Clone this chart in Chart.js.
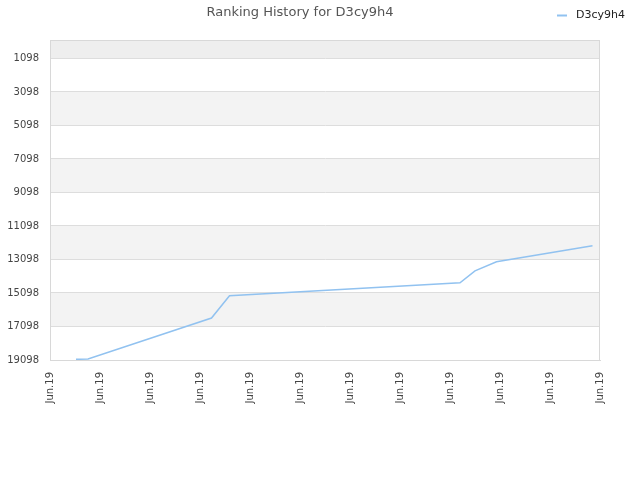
<!DOCTYPE html>
<html>
<head>
<meta charset="utf-8">
<script src="https://cdn.jsdelivr.net/npm/chart.js@4"></script>
<style>
html,body{margin:0;padding:0;background:#fff;}
#wrap{width:640px;height:480px;}
</style>
</head>
<body>
<div id="wrap"><canvas id="c" width="640" height="480"></canvas></div>
<script>
const seriesName = 'D3cy9h4';
const titleText = 'Ranking History for D3cy9h4';
const tickLabels = ['Jun.19','Jun.19','Jun.19','Jun.19','Jun.19','Jun.19','Jun.19','Jun.19','Jun.19','Jun.19','Jun.19','Jun.19'];
const xPositions = [0.52, 0.76, 3.23, 3.59, 8.2, 8.5, 8.93, 10.85];
const ranks = [19060, 19040, 16595, 15265, 14491, 13775, 13239, 12285];
const yTicks = [1098, 3098, 5098, 7098, 9098, 11098, 13098, 15098, 17098, 19098];

const lineColor = 'rgb(145,194,240)';

const bandPlugin = {
  id: 'bands',
  beforeDraw(chart) {
    const ctx = chart.ctx, a = chart.chartArea, y = chart.scales.y;
    ctx.save();
    const yTop = y.getPixelForValue(y.min);
    const y0 = y.getPixelForValue(yTicks[0]);
    ctx.fillStyle = '#eeeeee';
    ctx.fillRect(a.left, Math.min(yTop, y0), a.right - a.left, Math.abs(y0 - yTop));
    for (let i = 0; i < yTicks.length - 1; i++) {
      if (i % 2 === 1) {
        const p1 = y.getPixelForValue(yTicks[i]);
        const p2 = y.getPixelForValue(yTicks[i + 1]);
        ctx.fillStyle = '#f3f3f3';
        ctx.fillRect(a.left, p1, a.right - a.left, p2 - p1);
      }
    }
    ctx.restore();
  },
  afterDraw(chart) {
    const ctx = chart.ctx, a = chart.chartArea;
    ctx.save();
    ctx.strokeStyle = '#d8d8d8';
    ctx.lineWidth = 1;
    ctx.strokeRect(Math.round(a.left) + 0.5, Math.round(a.top) + 0.5, Math.round(a.right - a.left) - 1, Math.round(a.bottom - a.top));
    ctx.strokeStyle = lineColor;
    ctx.lineWidth = 2;
    ctx.beginPath();
    ctx.moveTo(557, 15.5);
    ctx.lineTo(567, 15.5);
    ctx.stroke();
    ctx.fillStyle = '#222';
    ctx.font = '11px "DejaVu Sans"';
    ctx.textBaseline = 'middle';
    ctx.textAlign = 'left';
    ctx.fillText(seriesName, 576, 15);
    ctx.restore();
  }
};

new Chart(document.getElementById('c'), {
  type: 'line',
  data: {
    datasets: [{
      label: seriesName,
      data: xPositions.map((x, i) => ({x: x, y: ranks[i]})),
      borderColor: lineColor,
      backgroundColor: lineColor,
      borderWidth: 1.5,
      pointRadius: 0,
      tension: 0,
      fill: false
    }]
  },
  options: {
    responsive: false,
    animation: false,
    layout: {padding: {left: 0, right: 40, top: 0, bottom: 0}},
    plugins: {
      legend: {display: false},
      tooltip: {enabled: false},
      title: {
        display: true,
        text: titleText,
        color: '#555',
        font: {family: 'DejaVu Sans', size: 13, weight: 'normal'},
        padding: {top: 5, bottom: 19.4}
      }
    },
    scales: {
      x: {
        type: 'linear',
        min: 0,
        max: tickLabels.length - 1,
        afterFit(s) { s.height = 120; },
        afterBuildTicks(s) { s.ticks = tickLabels.map((_, i) => ({value: i})); },
        ticks: {
          stepSize: 1,
          autoSkip: false,
          maxRotation: 90,
          minRotation: 90,
          padding: 12,
          color: '#444',
          font: {family: 'DejaVu Sans', size: 10},
          callback: (v, i) => tickLabels[i]
        },
        grid: {display: false, drawTicks: false},
        border: {display: true, color: '#d8d8d8'}
      },
      y: {
        type: 'linear',
        reverse: true,
        min: 0,
        max: 19098,
        afterFit(s) { s.width = 50; },
        afterBuildTicks(s) { s.ticks = yTicks.map(v => ({value: v})); },
        ticks: {
          color: '#444',
          padding: 11,
          font: {family: 'DejaVu Sans', size: 10},
          callback: v => String(v)
        },
        grid: {color: '#dddddd', drawTicks: false},
        border: {display: true, color: '#d8d8d8'}
      }
    }
  },
  plugins: [bandPlugin]
});
</script>
</body>
</html>
